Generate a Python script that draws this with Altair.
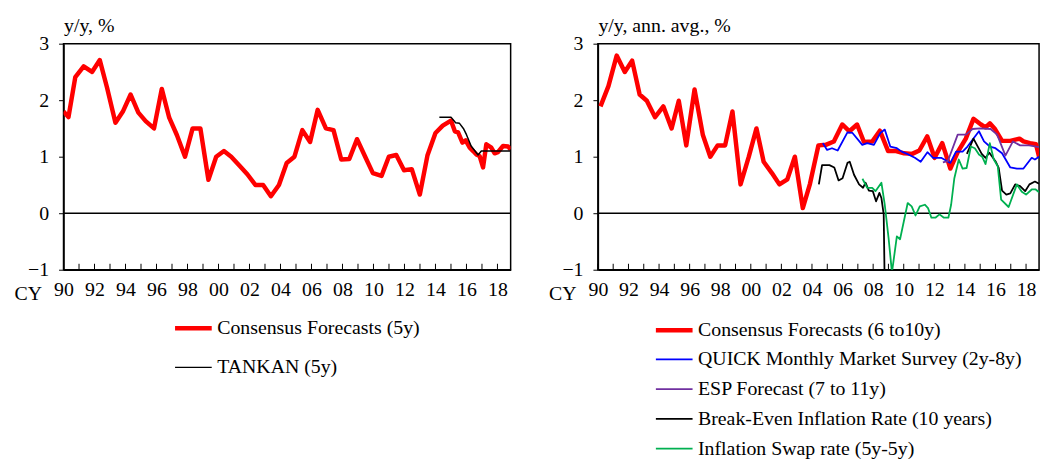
import altair as alt
import pandas as pd

FONT = "Liberation Serif"

# ---------------- Left panel data ----------------
cf5_year = [1990.0, 1990.32, 1990.76, 1991.30, 1991.84, 1992.34, 1992.81, 1993.35, 1993.85,
            1994.33, 1994.83, 1995.30, 1995.84, 1996.34, 1996.82, 1997.32, 1997.84, 1998.33,
            1998.83, 1999.35, 1999.85, 2000.35, 2000.82, 2001.36, 2001.86, 2002.38, 2002.88,
            2003.38, 2003.90, 2004.40, 2004.90, 2005.41, 2005.91, 2006.40, 2006.93, 2007.42,
            2007.92, 2008.44, 2008.94, 2009.48, 2009.96, 2010.52, 2010.99, 2011.47, 2011.97,
            2012.47, 2012.99, 2013.48, 2014.00, 2014.47, 2015.00, 2015.25, 2015.46, 2015.74,
            2015.95, 2016.21, 2016.43, 2016.64, 2016.85, 2017.07, 2017.28, 2017.60, 2017.82,
            2018.03, 2018.36, 2018.68, 2018.85]
cf5_val = [1.80, 1.70, 2.41, 2.60, 2.50, 2.71, 2.22, 1.60, 1.81,
           2.10, 1.78, 1.63, 1.50, 2.20, 1.69, 1.38, 1.00, 1.50,
           1.50, 0.59, 1.00, 1.10, 1.00, 0.84, 0.69, 0.50, 0.50,
           0.30, 0.50, 0.89, 1.00, 1.47, 1.26, 1.83, 1.50, 1.47,
           0.95, 0.96, 1.31, 0.99, 0.71, 0.66, 1.00, 1.03, 0.76,
           0.78, 0.33, 1.02, 1.42, 1.55, 1.64, 1.45, 1.43, 1.25,
           1.29, 1.16, 1.10, 1.04, 1.01, 0.81, 1.22, 1.16, 1.06,
           1.08, 1.19, 1.18, 1.13]

tankan_year = [2014.25, 2015.0, 2015.3, 2015.55, 2015.8, 2016.0, 2016.3, 2016.55, 2016.75,
               2016.96, 2018.85]
tankan_val = [1.70, 1.70, 1.60, 1.59, 1.50, 1.39, 1.19, 1.10, 1.03, 1.10, 1.10]

left_names = ["Consensus Forecasts (5y)", "TANKAN (5y)"]
left_colors = ["#FF0000", "#000000"]
left_widths = [4.5, 1.5]

# ---------------- Right panel data ----------------
cf610_year = [1990.17, 1990.69, 1991.23, 1991.76, 1992.24, 1992.73, 1993.20, 1993.74, 1994.28,
              1994.82, 1995.29, 1995.78, 1996.32, 1996.86, 1997.35, 1997.83, 1998.32, 1998.80,
              1999.33, 1999.87, 2000.37, 2000.84, 2001.38, 2001.87, 2002.39, 2002.88, 2003.40,
              2003.87, 2004.42, 2004.90, 2005.43, 2005.98, 2006.45, 2006.95, 2007.40, 2007.94,
              2008.44, 2008.98, 2009.50, 2010.03, 2010.55, 2011.02, 2011.54, 2012.02, 2012.52,
              2013.05, 2013.53, 2014.06, 2014.56, 2015.05, 2015.35, 2015.63, 2015.94, 2016.43,
              2016.97, 2017.57, 2017.83, 2018.26, 2018.65, 2018.85]
cf610_val = [1.89, 2.25, 2.79, 2.50, 2.70, 2.10, 1.99, 1.70, 1.89,
             1.50, 1.99, 1.20, 2.19, 1.39, 1.00, 1.20, 1.20, 1.80,
             0.51, 1.00, 1.50, 0.91, 0.71, 0.51, 0.60, 1.00, 0.09,
             0.52, 1.20, 1.21, 1.27, 1.57, 1.45, 1.57, 1.26, 1.27,
             1.46, 1.10, 1.10, 1.06, 1.05, 1.11, 1.36, 0.98, 1.24,
             0.79, 1.08, 1.32, 1.67, 1.57, 1.52, 1.59, 1.50, 1.28,
             1.28, 1.32, 1.27, 1.24, 1.22, 1.00]

quick_year = [2004.71, 2004.99, 2005.31, 2005.68, 2006.32, 2006.65, 2007.29, 2007.61, 2008.05,
              2008.47, 2008.76, 2009.12, 2009.55, 2009.87, 2010.30, 2010.73, 2011.11, 2011.55,
              2011.92, 2012.45, 2013.05, 2013.42, 2013.85, 2014.17, 2014.50, 2014.92, 2015.25,
              2015.63, 2016.00, 2016.43, 2016.97, 2017.40, 2017.83, 2018.37, 2018.58, 2018.85]
quick_val = [1.24, 1.12, 1.15, 1.11, 1.43, 1.42, 1.21, 1.24, 1.21,
             1.42, 1.48, 1.18, 1.15, 1.09, 1.04, 0.98, 0.91, 1.08,
             0.98, 0.98, 0.89, 1.09, 1.09, 1.18, 1.30, 1.45, 1.27,
             1.18, 1.15, 1.06, 0.81, 0.79, 0.79, 0.98, 0.95, 1.00]

esp_year = [2012.56, 2012.88, 2013.53, 2014.06, 2014.50, 2015.00, 2015.68, 2016.11, 2016.65,
            2017.14, 2017.61, 2018.20, 2018.85]
esp_val = [0.90, 0.92, 1.39, 1.39, 1.49, 1.50, 1.49, 1.39, 1.02,
           1.27, 1.20, 1.20, 1.17]

bei_year = [2004.45, 2004.66, 2005.14, 2005.46, 2005.74, 2006.00, 2006.32, 2006.47, 2006.75,
            2007.08, 2007.34, 2007.50, 2007.72, 2007.98, 2008.19, 2008.41, 2008.54, 2008.69,
            2008.82,
            2014.13, 2014.56, 2015.10, 2015.35, 2015.60, 2016.00, 2016.21, 2016.43, 2016.71,
            2016.97, 2017.29, 2017.61, 2017.94, 2018.22, 2018.58, 2018.85]
bei_val = [0.51, 0.85, 0.85, 0.81, 0.58, 0.62, 0.89, 0.91, 0.68,
           0.51, 0.45, 0.54, 0.40, 0.39, 0.21, 0.36, 0.27, -0.02,
           -2.50,
           1.05, 1.32, 1.05, 0.98, 1.07, 0.92, 0.80, 0.40, 0.33,
           0.35, 0.51, 0.48, 0.39, 0.51, 0.56, 0.52]
bei_seg = [1] * 19 + [2] * 16

swap_year = [2007.30, 2007.61, 2007.94, 2008.15, 2008.54, 2008.76, 2009.01, 2009.23, 2009.55,
             2009.76, 2010.26, 2010.52, 2010.77, 2011.05, 2011.38, 2011.59, 2011.81, 2012.07,
             2012.34, 2012.63, 2012.92, 2013.10, 2013.31, 2013.60, 2013.85, 2014.11, 2014.39,
             2014.65, 2014.92, 2015.13, 2015.35, 2015.63, 2015.89, 2016.15, 2016.37, 2016.86,
             2017.40, 2017.72, 2018.00, 2018.37, 2018.63, 2018.85]
swap_val = [0.61, 0.45, 0.45, 0.39, 0.54, 0.15, -0.44, -1.05, -0.41,
            -0.46, 0.18, 0.12, -0.04, 0.12, 0.15, 0.09, -0.08, -0.08,
            -0.02, -0.08, -0.08, 0.15, 0.62, 0.95, 0.79, 0.80, 1.18,
            1.15, 1.04, 1.00, 0.87, 1.24, 0.95, 0.83, 0.24, 0.11,
            0.51, 0.38, 0.33, 0.42, 0.42, 0.37]

right_names = ["Consensus Forecasts (6 to10y)", "QUICK Monthly Market Survey (2y-8y)",
               "ESP Forecast (7 to 11y)", "Break-Even Inflation Rate (10 years)",
               "Inflation Swap rate (5y-5y)"]
right_colors = ["#FF0000", "#0000FF", "#7030A0", "#000000", "#00B050"]
right_widths = [4.5, 1.8, 1.8, 1.8, 1.8]

year_ticks = list(range(1990, 2019))
x_domain = [1990, 2018.85]
y_ticks = [-1, 0, 1, 2, 3]

H = 228


def series_df(name, xs, ys, seg=None):
    return pd.DataFrame({"year": xs, "value": ys, "series": name,
                         "seg": seg if seg is not None else [0] * len(xs)})


def panel(series, names, colors, widths, ytitle, lx, ly, row_pad, width):
    xenc = alt.X("year:Q",
                 scale=alt.Scale(domain=x_domain, nice=False, zero=False),
                 axis=alt.Axis(values=year_ticks, tickSize=0, grid=False,
                               labelExpr="datum.value % 2 == 0 ? slice(toString(datum.value), 2) : ''",
                               labelOverlap=False, labelFlush=False, labelPadding=10,
                               title="CY", titleX=-36, titleY=24, titleAlign="center",
                               titleBaseline="middle"))
    yenc = alt.Y("value:Q",
                 scale=alt.Scale(domain=[-1, 3], nice=False, zero=False),
                 axis=alt.Axis(values=y_ticks, tickSize=5, grid=False, labelPadding=10,
                               title=ytitle, titleAngle=0, titleX=0, titleY=-12,
                               titleAlign="left", titleBaseline="alphabetic"))
    legend = alt.Legend(title=None, orient="none", legendX=lx, legendY=ly,
                        direction="vertical", symbolType="stroke", symbolSize=1369,
                        labelFont=FONT, labelFontSize=20, labelColor="black",
                        labelOffset=3, rowPadding=row_pad, labelLimit=500)
    color = alt.Color("series:N", scale=alt.Scale(domain=names, range=colors), legend=legend)
    sw = alt.StrokeWidth("series:N",
                         scale=alt.Scale(type="ordinal", domain=names, range=widths),
                         legend=legend)

    layers = []
    for name, xs, ys, seg in series:
        df = series_df(name, xs, ys, seg)
        layers.append(
            alt.Chart(df).mark_line(clip=True, strokeJoin="round").encode(
                x=xenc, y=yenc, color=color, strokeWidth=sw, detail="seg:N"))
    zero = alt.Chart(pd.DataFrame({"value": [0]})).mark_rule(
        color="black", strokeWidth=1.5).encode(y=yenc)
    ticks = alt.Chart(pd.DataFrame({"year": year_ticks})).mark_rule(
        color="black", strokeWidth=1).encode(x=xenc, y=alt.value(H), y2=alt.value(H - 6))
    return alt.layer(zero, ticks, *layers).properties(width=width, height=H)


left = panel([(left_names[0], cf5_year, cf5_val, None),
              (left_names[1], tankan_year, tankan_val, None)],
             left_names, left_colors, left_widths, "y/y, %", 110, 266, 10, 451)

right = panel([(right_names[0], cf610_year, cf610_val, None),
               (right_names[1], quick_year, quick_val, None),
               (right_names[2], esp_year, esp_val, None),
               (right_names[3], bei_year, bei_val, bei_seg),
               (right_names[4], swap_year, swap_val, None)],
              right_names, right_colors, right_widths, "y/y, ann. avg., %", 56, 268, -9, 445)

chart = alt.hconcat(left, right, spacing=88, bounds="flush").resolve_scale(
    color="independent", strokeWidth="independent", x="independent", y="independent"
).resolve_legend(color="independent", strokeWidth="independent").configure(
    font=FONT, padding={"left": 5, "top": 5, "right": 5, "bottom": 5}
).configure_axis(
    labelFont=FONT, titleFont=FONT, labelFontSize=20, titleFontSize=20,
    labelColor="black", titleColor="black", titleFontWeight="normal",
    domainColor="black", tickColor="black", domainWidth=1.5
).configure_view(stroke="black", strokeWidth=1.5)

chart.save("out.html", embed_options={"renderer": "svg", "actions": False})
